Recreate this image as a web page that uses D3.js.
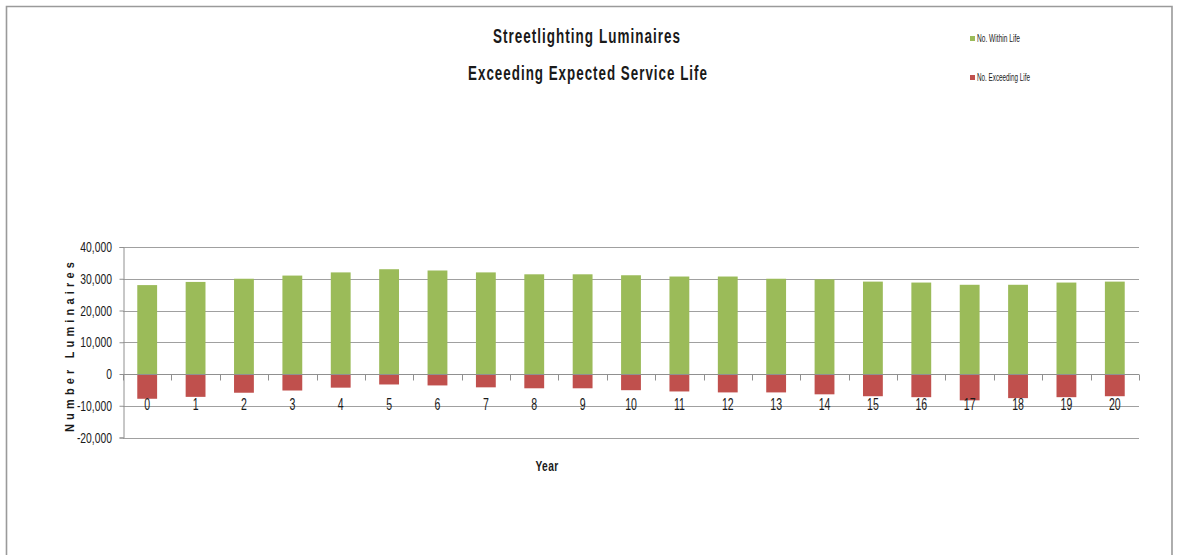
<!DOCTYPE html>
<html>
<head>
<meta charset="utf-8">
<script src="https://cdn.jsdelivr.net/npm/d3@7"></script>
<style>
  html, body { margin: 0; padding: 0; background: #fff; }
  svg { display: block; }
  text { font-family: "Liberation Sans", Arial, sans-serif; }
</style>
</head>
<body>
<svg id="chart" width="1179" height="555"></svg>
<script>
const years = ["0","1","2","3","4","5","6","7","8","9","10","11","12","13","14","15","16","17","18","19","20"];
const withinLife = [28000, 29000, 30000, 31000, 32000, 33000, 32600, 32000, 31400, 31400, 31100, 30700, 30700, 30000, 29800, 29100, 28800, 28100, 28100, 28800, 29100];
const exceedingLife = [-7800, -7200, -5900, -5200, -4300, -3300, -3600, -4200, -4500, -4500, -5100, -5500, -5800, -5800, -6400, -7000, -7300, -8300, -7600, -7300, -7000];
const yTicks = [-20000, -10000, 0, 10000, 20000, 30000, 40000];
const seriesNames = ["No. Within Life", "No. Exceeding Life"];
const seriesColors = ["#9BBB59", "#C0504D"];
const titleLines = ["Streetlighting Luminaires", "Exceeding Expected Service Life"];

const svg = d3.select("#chart");

// helper: horizontally condensed text (Calibri-narrow look)
function addText(parent, o) {
  const g = parent.append("g");
  const t = g.append("text")
    .attr("font-size", o.size).attr("font-weight", o.weight || "normal")
    .attr("fill", o.fill || "#1a1a1a")
    .attr("text-anchor", o.anchor || "start")
    .text(o.text);
  if (o.spacing) t.attr("letter-spacing", o.spacing);
  let sx = o.sx || 1;
  if (o.width) {
    const w = t.node().getComputedTextLength();
    sx = o.width / w;
  }
  g.attr("transform", `translate(${o.x},${o.y})${o.rotate ? ` rotate(${o.rotate})` : ""} scale(${sx},1)`);
  return g;
}

// chart frame
svg.append("path")
  .attr("d", "M6.5,560 V6.5 H1172 V560")
  .attr("fill", "none").attr("stroke", "#9a9a9a").attr("stroke-width", 1.6);

const plotLeft = 123, plotRight = 1139, plotTop = 247, plotBottom = 437.5;

const x = d3.scaleBand().domain(years).range([plotLeft, plotRight])
  .paddingInner(0.59).paddingOuter(0.295);
const y = d3.scaleLinear().domain([-20000, 40000]).range([plotBottom, plotTop]);

// gridlines
svg.append("g").selectAll("line").data(yTicks.filter(d => d !== 0)).join("line")
  .attr("x1", plotLeft).attr("x2", plotRight)
  .attr("y1", d => Math.round(y(d)) + 0.5).attr("y2", d => Math.round(y(d)) + 0.5)
  .attr("stroke", "#a0a0a0").attr("stroke-width", 1);

// bars
svg.append("g").selectAll("rect").data(withinLife).join("rect")
  .attr("x", (d, i) => x(years[i])).attr("width", x.bandwidth())
  .attr("y", d => y(d)).attr("height", d => y(0) - y(d))
  .attr("fill", seriesColors[0]);
svg.append("g").selectAll("rect").data(exceedingLife).join("rect")
  .attr("x", (d, i) => x(years[i])).attr("width", x.bandwidth())
  .attr("y", y(0)).attr("height", d => y(d) - y(0))
  .attr("fill", seriesColors[1]);

// y axis (line + ticks via d3 axis, labels condensed)
const yAxis = d3.axisLeft(y).tickValues(yTicks).tickSize(4).tickFormat("");
const gy = svg.append("g").attr("transform", `translate(${plotLeft + 0.5},0)`).call(yAxis);
gy.select(".domain").attr("stroke", "#909090");
gy.selectAll(".tick line").attr("stroke", "#909090");
const fmt = d3.format(",");
yTicks.forEach(v => {
  addText(svg, { x: 112, y: y(v) + 5, text: v < 0 ? "-" + fmt(-v) : fmt(v), size: 14, anchor: "end", sx: 0.74 });
});

// category axis at zero
const y0 = Math.round(y(0)) + 0.5;
svg.append("line").attr("x1", plotLeft).attr("x2", plotRight).attr("y1", y0).attr("y2", y0)
  .attr("stroke", "#909090").attr("stroke-width", 1);
const boundaries = years.map(d => x(d) - x.step() * x.paddingInner() / 2).concat([plotRight]);
svg.append("g").selectAll("line").data(boundaries).join("line")
  .attr("x1", d => Math.round(d) + 0.5).attr("x2", d => Math.round(d) + 0.5)
  .attr("y1", y0).attr("y2", y0 + 6).attr("stroke", "#909090");
years.forEach(d => {
  addText(svg, { x: x(d) + x.bandwidth() / 2, y: 410, text: d, size: 16, anchor: "middle", sx: 0.66 });
});

// titles
addText(svg, { x: 587, y: 43, text: titleLines[0], size: 20, weight: "bold", anchor: "middle", spacing: 1.5, width: 188 });
addText(svg, { x: 588, y: 80, text: titleLines[1], size: 20, weight: "bold", anchor: "middle", spacing: 1.5, width: 240 });

// axis titles
addText(svg, { x: 74, y: 345, rotate: -90, text: "Number Luminaires", size: 13, weight: "bold", anchor: "middle", spacing: 5, width: 174 });
addText(svg, { x: 547, y: 471, text: "Year", size: 15, weight: "bold", anchor: "middle", spacing: 0.5, width: 23 });

// legend
const lg = svg.append("g").selectAll("g").data(seriesNames).join("g")
  .attr("transform", (d, i) => `translate(970,${39 + i * 39})`);
lg.append("rect").attr("x", 0).attr("y", -3).attr("width", 5).attr("height", 5)
  .attr("fill", (d, i) => seriesColors[i]);
addText(svg, { x: 977, y: 42, text: seriesNames[0], size: 10, anchor: "start", width: 43 });
addText(svg, { x: 977, y: 81, text: seriesNames[1], size: 10, anchor: "start", width: 53 });
</script>
</body>
</html>
